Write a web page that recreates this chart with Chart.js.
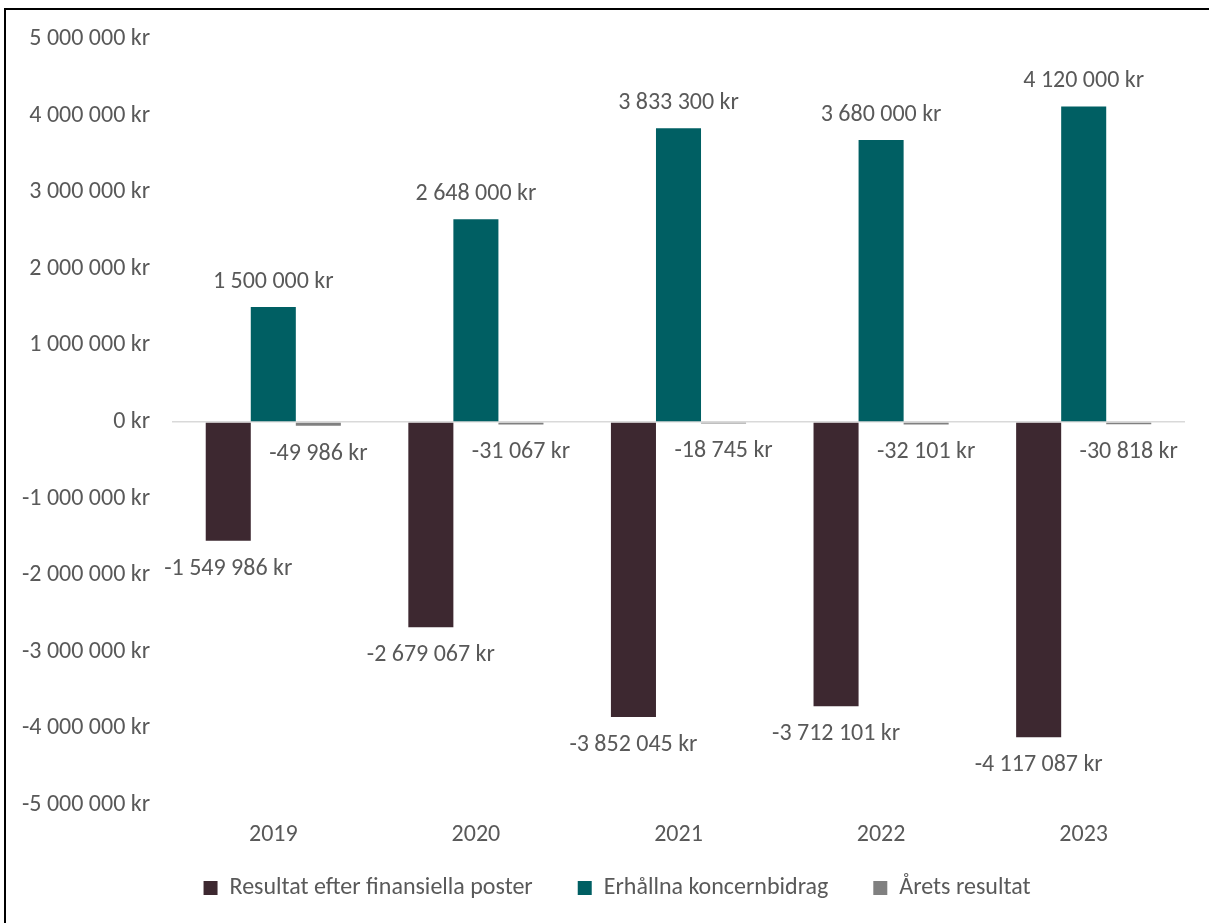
<!DOCTYPE html>
<html>
<head>
<meta charset="utf-8">
<script src="https://cdn.jsdelivr.net/npm/chart.js@4/dist/chart.umd.min.js"></script>
<style>
  html, body { margin: 0; padding: 0; background: #fff; overflow: hidden; width: 1209px; height: 923px; }
  #frame { position: absolute; left: 4px; top: 8px; width: 1222px; height: 960px; border: 2px solid #000; background: #fff; }
  canvas { display: block; }
</style>
</head>
<body>
<div id="frame"><canvas id="c" width="1222" height="960"></canvas></div>
<script>
const categories = ["2019", "2020", "2021", "2022", "2023"];
const resultatEfterFinansiella = [-1549986, -2679067, -3852045, -3712101, -4117087];
const erhallnaKoncernbidrag = [1500000, 2648000, 3833300, 3680000, 4120000];
const aretsResultat = [-49986, -31067, -18745, -32101, -30818];
const seriesNames = ["Resultat efter finansiella poster", "Erhållna koncernbidrag", "Årets resultat"];
const seriesColors = ["#3D2830", "#005F63", "#808080"];
const yMin = -5000000, yMax = 5000000, yStep = 1000000;

const FONT = "Carlito, Lato, 'Liberation Sans', sans-serif";
const TEXT = "#595959";
const FS = 24;
const LEGEND_PAD = 45;
const LEGEND_CENTER_Y = 878;
const LEGEND_H = 100;
const XAXIS_H = 40;

function fmt(v) {
  const s = Math.abs(Math.round(v)).toString().replace(/\B(?=(\d{3})+(?!\d))/g, " ");
  return (v < 0 ? "-" : "") + s + " kr";
}

const layoutPlugin = {
  id: "layoutTweaks",
  beforeLayout(chart) {
    const lg = chart.legend;
    if (lg && !lg._patched) {
      lg._patched = true;
      lg.afterFit = function () { this.height = LEGEND_H; };
    }
  },
  afterLayout(chart) {
    const lg = chart.legend;
    if (lg) {
      const h = lg.bottom - lg.top;
      lg.top = LEGEND_CENTER_Y - LEGEND_PAD - FS / 2;
      lg.bottom = lg.top + h;
      lg.left = 0;
      lg.right = chart.width;
      lg.width = chart.width;
    }
  },
  afterDatasetsDraw(chart) {
    const ctx = chart.ctx;
    ctx.save();
    ctx.font = FS + "px " + FONT;
    ctx.fillStyle = TEXT;
    ctx.textAlign = "center";
    ctx.textBaseline = "middle";
    chart.data.datasets.forEach((ds, i) => {
      const meta = chart.getDatasetMeta(i);
      meta.data.forEach((bar, j) => {
        const v = ds.data[j];
        const y = v >= 0 ? bar.y - 25 : bar.y + 28;
        ctx.fillText(fmt(v), bar.x, y);
      });
    });
    ctx.restore();
  }
};

Chart.defaults.font.family = FONT;
Chart.defaults.font.size = FS;
Chart.defaults.color = TEXT;

new Chart(document.getElementById("c"), {
  type: "bar",
  data: {
    labels: categories,
    datasets: [
      { label: seriesNames[0], data: resultatEfterFinansiella, backgroundColor: seriesColors[0] },
      { label: seriesNames[1], data: erhallnaKoncernbidrag, backgroundColor: seriesColors[1] },
      { label: seriesNames[2], data: aretsResultat, backgroundColor: seriesColors[2] }
    ]
  },
  options: {
    responsive: false,
    animation: false,
    devicePixelRatio: 1,
    layout: { padding: { top: 29, right: 43, left: 0, bottom: 46 } },
    datasets: { bar: { categoryPercentage: 0.667, barPercentage: 1.0 } },
    scales: {
      x: {
        afterFit(scale) { scale.height = XAXIS_H; scale.paddingLeft = 0; scale.paddingRight = 0; },
        grid: { display: false },
        border: { display: false },
        ticks: { padding: 10, color: TEXT, font: { size: FS, lineHeight: 1 } }
      },
      y: {
        min: yMin, max: yMax,
        afterFit(scale) { scale.width = 166; scale.paddingTop = 0; scale.paddingBottom = 0; },
        border: { display: false },
        grid: {
          drawTicks: false,
          lineWidth: 1.5,
          color: (c) => (c.tick && c.tick.value === 0 ? "#D9D9D9" : "rgba(0,0,0,0)")
        },
        ticks: {
          stepSize: yStep,
          padding: 22,
          color: TEXT,
          font: { size: FS },
          callback: (v) => fmt(v)
        }
      }
    },
    plugins: {
      legend: {
        position: "bottom",
        labels: {
          boxWidth: 14, boxHeight: 14, padding: LEGEND_PAD,
          color: TEXT, font: { size: FS, lineHeight: 1 }
        }
      },
      tooltip: { enabled: false }
    }
  },
  plugins: [layoutPlugin]
});
</script>
</body>
</html>
